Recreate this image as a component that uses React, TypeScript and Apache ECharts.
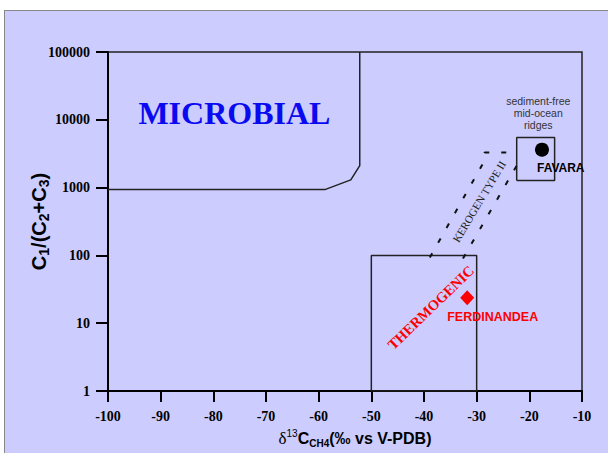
import React, { useEffect, useRef } from 'react';
import * as echarts from 'echarts';

// Axis ranges / ticks
const xMin = -100;
const xMax = -10;
const xInterval = 10;
const yMin = 1;
const yMax = 100000;

// Field outlines
const microbialX = [-100, -58.7, -53.9, -52.2, -52.2];
const microbialY = [940, 940, 1300, 2110, 100000];

const thermogenicX = [-50, -50, -30, -30, -50];
const thermogenicY = [1, 100, 100, 1, 1];

const ridgesX = [-22.4, -22.4, -15.2, -15.2, -22.4];
const ridgesY = [1270, 5500, 5500, 1270, 1270];

const kerogenLeftX = [-38.9, -28.5, -28.5, -22.4];
const kerogenLeftY = [93, 2500, 3280, 3280];
const kerogenRightX = [-32.6, -22.4];
const kerogenRightY = [90, 2110];

// Samples
const sampleNames = ['FAVARA', 'FERDINANDEA'];
const sampleX = [-17.6, -31.8];
const sampleY = [3630, 23.7];

// Annotation anchors
const labelTexts = ['MICROBIAL', 'sediment-free\nmid-ocean\nridges', 'THERMOGENIC', 'KEROGEN TYPE II'];
const labelX = [-76.0, -18.3, -38.7, -29.55];
const labelY = [12400, 12700, 17.0, 622];

const zip = (xs: number[], ys: number[]) => xs.map((x, i) => [x, ys[i]]);

export default function App() {
  const ref = useRef<HTMLDivElement>(null);
  useEffect(() => {
    if (!ref.current) return;
    const chart = echarts.init(ref.current, undefined, { renderer: 'svg' });
    const lineStyle = { color: '#222', width: 1.5 };
    const outline = (xs: number[], ys: number[], extra: any = {}) => ({
      type: 'line',
      data: zip(xs, ys),
      symbol: 'none',
      silent: true,
      lineStyle: { ...lineStyle, ...extra },
      z: 3,
    });
    const textPoint = (i: number, label: any) => ({
      type: 'scatter',
      silent: true,
      symbolSize: 0,
      z: 6,
      itemStyle: { opacity: 1 },
      data: [{ value: [labelX[i], labelY[i]] }],
      label: { show: true, position: 'inside', opacity: 1, formatter: labelTexts[i], ...label },
    });
    chart.setOption({
      animation: false,
      grid: {
        left: 108,
        right: 26,
        top: 52,
        bottom: 58,
        show: true,
        borderColor: '#222',
        borderWidth: 1.5,
        backgroundColor: 'transparent',
      },
      xAxis: {
        type: 'value',
        min: xMin,
        max: xMax,
        interval: xInterval,
        splitLine: { show: false },
        axisLine: { show: true, lineStyle: { color: '#000', width: 2 } },
        axisTick: { show: true, length: 11, lineStyle: { color: '#000', width: 2 } },
        axisLabel: {
          margin: 18,
          color: '#000',
          fontFamily: 'Liberation Serif',
          fontWeight: 'bold',
          fontSize: 14,
        },
        name: '{d|δ}{sup|13}{b|C}{sub|CH4}{b|(‰ vs V-PDB)}',
        nameLocation: 'middle',
        nameGap: 37,
        nameMoveOverlap: false,
        nameTextStyle: {
          padding: [0, 0, 0, 20],
          rich: {
            d: { fontFamily: 'Liberation Serif', fontSize: 17, color: '#000', lineHeight: 20 },
            sup: { fontFamily: 'Liberation Sans', fontSize: 10, color: '#000', lineHeight: 10, verticalAlign: 'top' },
            b: { fontFamily: 'Liberation Sans', fontWeight: 'bold', fontSize: 16, color: '#000', lineHeight: 20 },
            sub: { fontFamily: 'Liberation Sans', fontWeight: 'bold', fontSize: 10, color: '#000', lineHeight: 10, verticalAlign: 'bottom' },
          },
        },
      },
      yAxis: {
        type: 'log',
        logBase: 10,
        min: yMin,
        max: yMax,
        splitLine: { show: false },
        minorTick: { show: false },
        axisLine: { show: true, lineStyle: { color: '#000', width: 2 } },
        axisTick: { show: true, length: 12, lineStyle: { color: '#000', width: 2 } },
        axisLabel: {
          margin: 18,
          color: '#000',
          fontFamily: 'Liberation Serif',
          fontWeight: 'bold',
          fontSize: 14,
          formatter: (v: number) => String(Math.round(v)),
        },
        name: '{n|C}{s|1}{n|/(C}{s|2}{n|+C}{s|3}{n|)}',
        nameLocation: 'middle',
        nameGap: 57,
        nameMoveOverlap: false,
        nameRotate: 90,
        nameTextStyle: {
          rich: {
            n: { fontFamily: 'Liberation Sans', fontWeight: 'bold', fontSize: 20, color: '#000', lineHeight: 24 },
            s: { fontFamily: 'Liberation Sans', fontWeight: 'bold', fontSize: 14, color: '#000', lineHeight: 13, verticalAlign: 'bottom' },
          },
        },
      },
      series: [
        outline(microbialX, microbialY),
        outline(thermogenicX, thermogenicY),
        outline(ridgesX, ridgesY),
        outline(kerogenLeftX, kerogenLeftY, { type: [5, 12], width: 2, color: '#111' }),
        outline(kerogenRightX, kerogenRightY, { type: [5, 12], width: 2, color: '#111' }),
        {
          type: 'scatter',
          silent: true,
          z: 5,
          itemStyle: { opacity: 1 },
          data: [
            {
              value: [sampleX[0], sampleY[0]],
              symbol: 'circle',
              symbolSize: 14,
              itemStyle: { color: '#000', opacity: 1 },
              label: {
                show: true,
                formatter: sampleNames[0],
                position: [2, 25],
                align: 'left',
                verticalAlign: 'middle',
                color: '#000',
                fontFamily: 'Liberation Sans',
                fontWeight: 'bold',
                fontSize: 12,
              },
            },
            {
              value: [sampleX[1], sampleY[1]],
              symbol: 'diamond',
              symbolSize: [14, 15],
              itemStyle: { color: '#ff0000', opacity: 1 },
              label: {
                show: true,
                formatter: sampleNames[1],
                position: [-13, 27],
                align: 'left',
                verticalAlign: 'middle',
                color: '#ff0000',
                fontFamily: 'Liberation Sans',
                fontWeight: 'bold',
                fontSize: 12.5,
              },
            },
          ],
        },
        textPoint(0, { color: '#0a0af0', fontFamily: 'Liberation Serif', fontWeight: 'bold', fontSize: 32 }),
        textPoint(1, { color: '#333', fontFamily: 'Liberation Sans', fontSize: 10.5, lineHeight: 12 }),
        textPoint(2, { color: '#ff0000', fontFamily: 'Liberation Serif', fontWeight: 'bold', fontSize: 14.5, rotate: 44 }),
        textPoint(3, { color: '#222', fontFamily: 'Liberation Serif', fontSize: 11, rotate: 59 }),
      ],
    });
    return () => chart.dispose();
  }, []);

  return (
    <div style={{ position: 'absolute', left: 0, top: 0, width: 608, height: 453, background: '#fff', overflow: 'hidden' }}>
      <div
        style={{
          position: 'absolute',
          left: 4,
          top: 10,
          width: 620,
          height: 460,
          background: '#ccccff',
          borderLeft: '1.5px solid #888',
          borderTop: '1.5px solid #888',
        }}
      />
      <div ref={ref} style={{ position: 'absolute', left: 0, top: 0, width: 608, height: 453 }} />
    </div>
  );
}
